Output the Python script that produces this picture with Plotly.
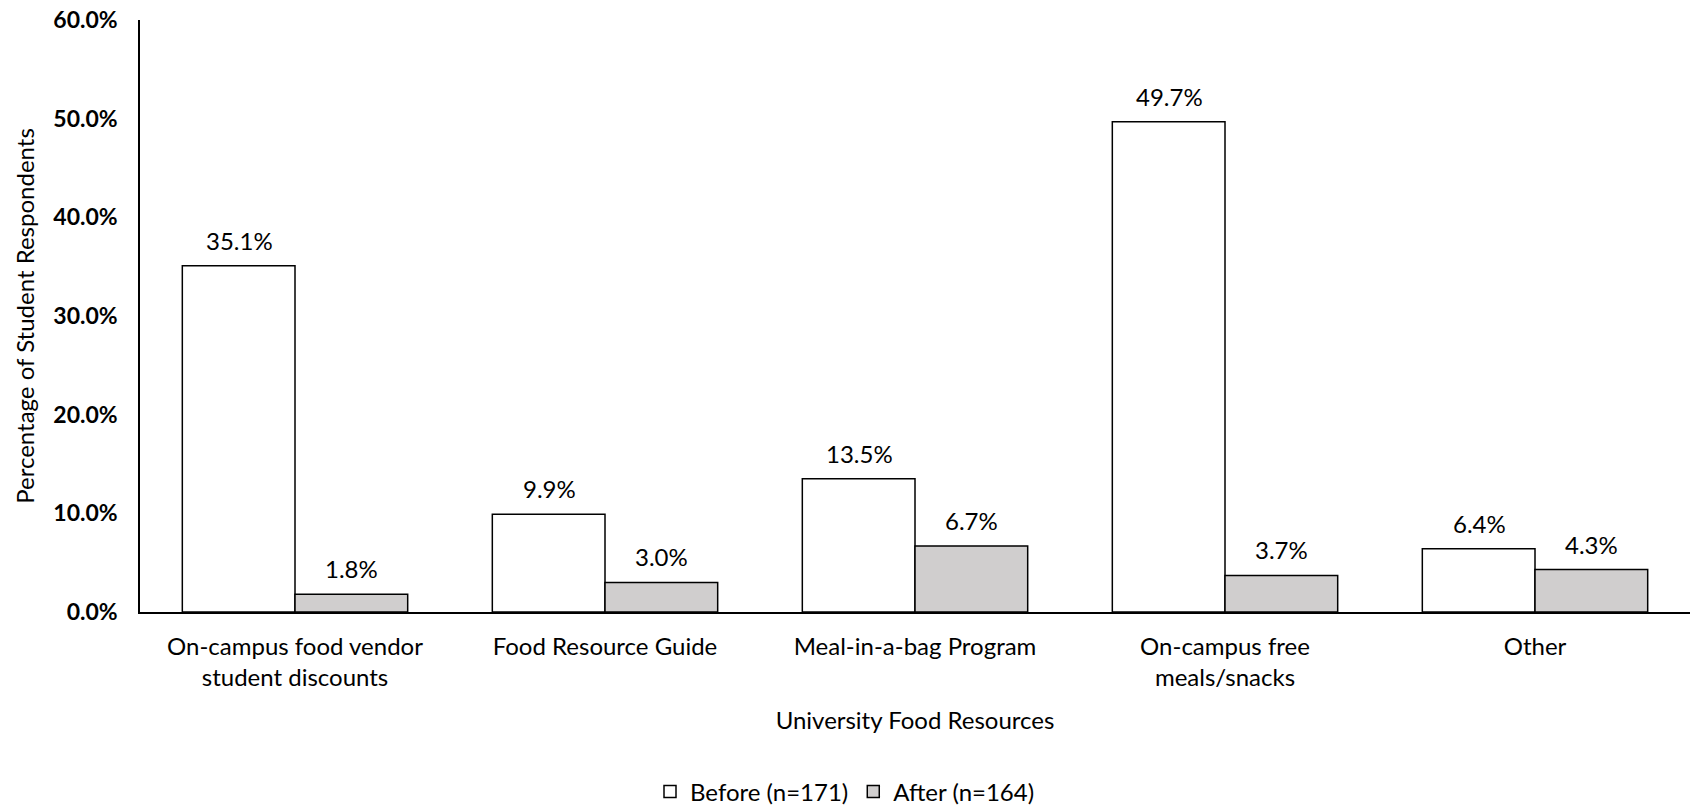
import plotly.graph_objects as go

categories = ["On-campus food vendor<br>student discounts", "Food Resource Guide",
              "Meal-in-a-bag Program", "On-campus free<br>meals/snacks", "Other"]
before = [0.351, 0.099, 0.135, 0.497, 0.064]
after = [0.018, 0.030, 0.067, 0.037, 0.043]
series_names = ["Before (n=171)", "After (n=164)"]
y_ticks = [0.0, 0.1, 0.2, 0.3, 0.4, 0.5, 0.6]

FONT = "Lato"
fig = go.Figure()
fig.add_trace(go.Bar(x=categories, y=before, name=series_names[0],
                     marker=dict(color="#FFFFFF", line=dict(color="#000000", width=1.5))))
fig.add_trace(go.Bar(x=categories, y=after, name=series_names[1],
                     marker=dict(color="#D0CECE", line=dict(color="#000000", width=1.5))))

annotations = []
for vals, shift in ((before, -56), (after, 56)):
    for c, v in zip(categories, vals):
        annotations.append(dict(x=c, y=v, xref="x", yref="y", text=f"{v*100:.1f}%",
                                showarrow=False, yanchor="bottom", yshift=9, xshift=shift,
                                font=dict(family=FONT, size=24, color="#000000")))

fig.update_layout(
    width=1690, height=807,
    margin=dict(l=140, r=0, t=20, b=195, autoexpand=False),
    paper_bgcolor="white", plot_bgcolor="white",
    barmode="group", bargap=0.273, bargroupgap=0,
    font=dict(family=FONT, color="#000000"),
    annotations=annotations,
    legend=dict(orientation="h", x=0.5, xref="container", xanchor="center",
                y=15 / 807, yref="container", yanchor="middle",
                font=dict(family=FONT, size=24), traceorder="normal",
                itemwidth=30, tracegroupgap=0),
    xaxis=dict(showline=True, linecolor="#000000", linewidth=2, ticks="",
               tickfont=dict(family=FONT, size=24), ticklabelstandoff=12,
               title=dict(text="University Food Resources", font=dict(family=FONT, size=24), standoff=22)),
    yaxis=dict(range=[0, 0.6], tickvals=y_ticks, tickformat=".1%", showline=True,
               linecolor="#000000", linewidth=1.5, showgrid=False, zeroline=False, ticks="",
               tickfont=dict(family=FONT, size=23, weight="bold"), ticklabelstandoff=16,
               title=dict(text="Percentage of Student Respondents", font=dict(family=FONT, size=24), standoff=12)),
)
fig.write_html("out.html")
